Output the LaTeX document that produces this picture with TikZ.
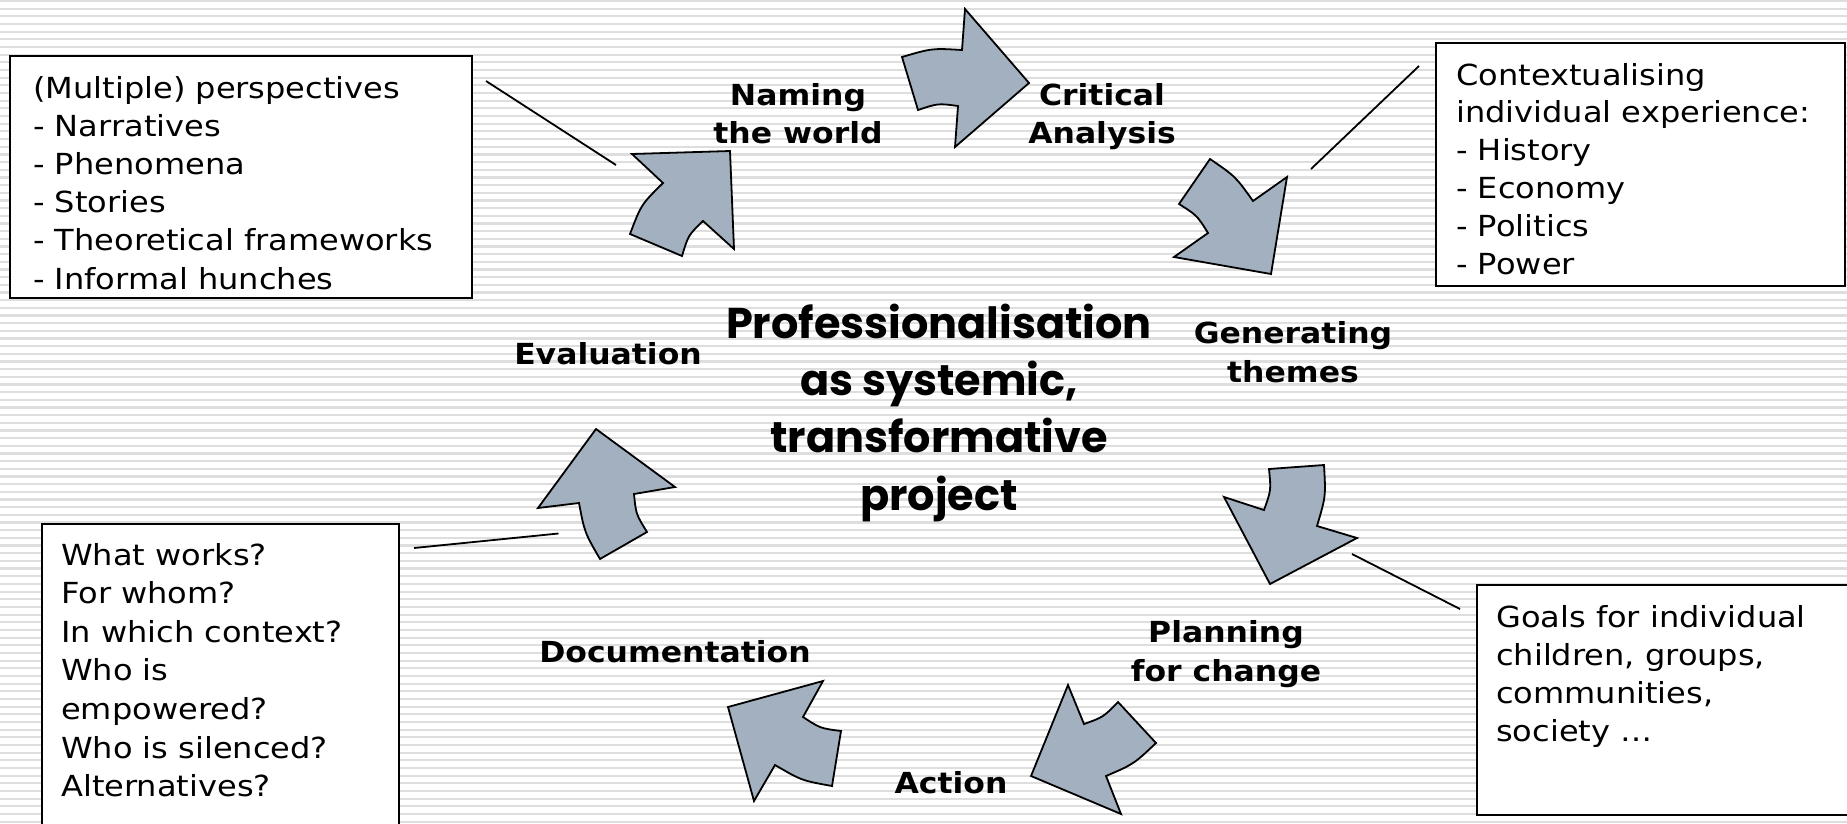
\documentclass[tikz,border=0pt]{standalone}
\usepackage{fontspec}
\setmainfont{DejaVu Sans}[FakeStretch=1.105, BoldFeatures={FakeStretch=1.085}]
\newfontfamily\titlefont{Poppins}
\definecolor{arrowfill}{RGB}{163,176,191}
\definecolor{stripecol}{RGB}{222,222,222}
\tikzset{
  stripeline/.style={draw=stripecol, line width=2.2pt},
  cyclearrow/.style={draw=black, line width=1.8pt, fill=arrowfill, line join=miter},
  infobox/.style={draw=black, line width=2.2pt, fill=white, anchor=north west, inner sep=0pt},
  boxtext/.style={font=\fontsize{29}{38.2}\selectfont, align=left, anchor=base west, inner sep=0pt},
  steplabel/.style={font=\bfseries\fontsize{29}{38.3}\selectfont, align=center, anchor=base, inner sep=0pt},
  pointer/.style={draw=black, line width=1.8pt},
  titletext/.style={font=\titlefont\bfseries\fontsize{43}{57.3}\selectfont, align=center, anchor=base, inner sep=0pt}
}
\begin{document}
\begin{tikzpicture}[x=1pt,y=-1pt]
\useasboundingbox (0,0) rectangle (1847,823);
\clip (0,0) rectangle (1847,823);
\fill[white] (0,0) rectangle (1847,823);
% background stripes
\foreach \i in {0,...,107}{
  \draw[stripeline] (0,{1+\i*7.67}) -- (1847,{1+\i*7.67});
}
% info boxes
\node[infobox, minimum width=462pt, minimum height=242pt] (box1) at (9,55) {};
\node[infobox, minimum width=409pt, minimum height=243pt] (box2) at (1434.5,42) {};
\node[infobox, minimum width=357pt, minimum height=330pt] (box3) at (41,523) {};
\node[infobox, minimum width=400pt, minimum height=230pt] (box4) at (1475.5,584) {};

% multi-line texts: base anchor = baseline of the last line
\node[boxtext] (t1) at (33,289) {(Multiple) perspectives\\- Narratives\\- Phenomena\\- Stories\\- Theoretical frameworks\\- Informal hunches};
\node[boxtext, font=\fontsize{29}{37.9}\selectfont] (t2) at (1456,274.5) {Contextualising\\individual experience:\\- History\\- Economy\\- Politics\\- Power};
\node[boxtext, font=\fontsize{29}{38.6}\selectfont] (t3) at (61,796.6) {What works?\\For whom?\\In which context?\\Who is\\empowered?\\Who is silenced?\\Alternatives?};
\node[boxtext, font=\fontsize{29}{38.1}\selectfont] (t4) at (1496,741.3) {Goals for individual\\children, groups,\\communities,\\society …};

% cycle arrows
\draw[cyclearrow] (632,154) -- (730,151) -- (734,249) -- (703,221) .. controls (688.3,235.2) .. (682,256) -- (630,234) .. controls (641.2,204.5) .. (663,183) -- cycle;
\draw[cyclearrow] (902,57) .. controls (932,48.2) .. (962,50) -- (965,9) -- (1029,83) -- (955,147) -- (958,106) .. controls (938,103.3) .. (918,110) -- cycle;
\draw[cyclearrow] (1210,159) .. controls (1235.5,176.5) .. (1253,201) -- (1287,177) -- (1271,274) -- (1174,257) -- (1208,233) .. controls (1197.1,215.5) .. (1179,204) -- cycle;
\draw[cyclearrow] (1269,469) -- (1324,465) .. controls (1325.8,496.4) .. (1317,526) -- (1357,538) -- (1270,584) -- (1224,497) -- (1264,510) .. controls (1271.1,490.3) .. (1269,469) -- cycle;
\draw[cyclearrow] (1068,685) -- (1084,724) .. controls (1103.3,717.1) .. (1118,702) -- (1156,743) .. controls (1133.7,764.1) .. (1106,776) -- (1121,814) -- (1031,776) -- cycle;
\draw[cyclearrow] (728,707) -- (823,681) -- (803,717) .. controls (820.3,728.3) .. (841,731) -- (832,786) .. controls (801.5,780.5) .. (775,765) -- (754,801) -- cycle;
\draw[cyclearrow] (596,429) -- (675,487) -- (634,494) .. controls (636,514.2) .. (647,532) -- (600,559) .. controls (584.6,532.5) .. (579,503) -- (538,508) -- cycle;

% pointer lines
\coordinate (p1a) at (486,81); \coordinate (p1b) at (616,165);
\coordinate (p2a) at (1419,66); \coordinate (p2b) at (1311,169);
\coordinate (p3a) at (1352,554); \coordinate (p3b) at (1460,609);
\coordinate (p4a) at (414,548); \coordinate (p4b) at (558.5,533.5);
\draw[pointer] (p1a) -- (p1b);
\draw[pointer] (p2a) -- (p2b);
\draw[pointer] (p3a) -- (p3b);
\draw[pointer] (p4a) -- (p4b);

% step labels
\node[steplabel] (naming) at (798,143.3) {Naming\\the world};
\node[steplabel] (critical) at (1102,143.3) {Critical\\Analysis};
\node[steplabel] (generating) at (1293,382) {Generating\\themes};
\node[steplabel] (evaluation) at (608,364) {Evaluation};
\node[steplabel] (planning) at (1226,681) {Planning\\for change};
\node[steplabel] (documentation) at (675,662) {Documentation};
\node[steplabel] (action) at (951,793) {Action};

% centre
\node[titletext] (title) at (939,510) {Professionalisation\\as systemic,\\transformative\\project};
\end{tikzpicture}
\end{document}
